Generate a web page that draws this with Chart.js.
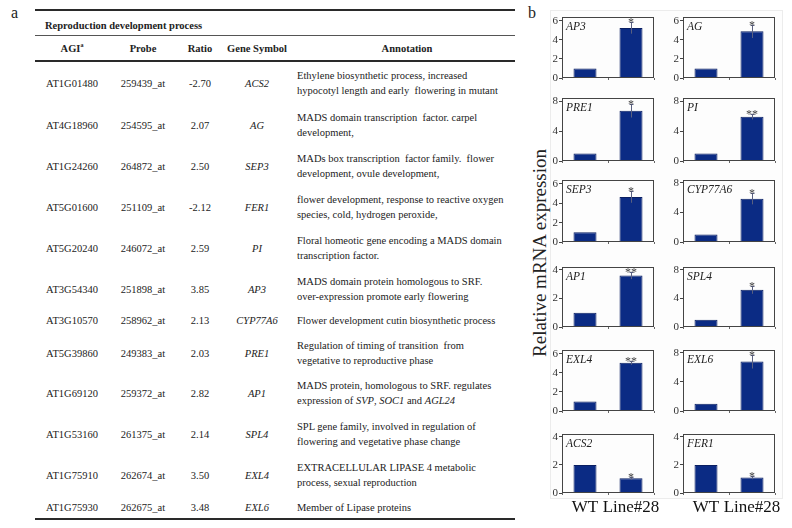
<!DOCTYPE html>
<html><head><meta charset="utf-8">
<script src="https://cdn.jsdelivr.net/npm/chart.js@4.4.1/dist/chart.umd.min.js"></script>
<style>
html,body{margin:0;padding:0;background:#fff;}
body{width:792px;height:528px;position:relative;overflow:hidden;font-family:"Liberation Serif","Times New Roman",serif;color:#222;}
.rule{position:absolute;left:35px;width:480px;background:#2a2a2a;}
.cell{position:absolute;font-size:10.5px;white-space:nowrap;transform:translate(-50%,-50%);}
.ann{position:absolute;left:297px;font-size:10.5px;line-height:15px;white-space:nowrap;transform:translateY(-50%);}
.hdr{font-weight:bold;}
sup{font-size:6px;}
canvas{position:absolute;}
#panelBg{position:absolute;left:550px;top:10px;width:231px;height:487px;border:1px solid #ececec;background:#fdfdfd;}
#ytitle{position:absolute;left:540px;top:253px;font-size:19px;white-space:nowrap;transform:translate(-50%,-50%) rotate(-90deg);color:#222;}
.plabel{position:absolute;font-size:16px;color:#222;}
</style></head><body>
<div class="plabel" style="left:11px;top:4px;">a</div>
<div class="plabel" style="left:528px;top:4px;">b</div>
<div id="panelBg"></div>
<div id="ytitle">Relative mRNA expression</div>
<div id="table"></div>
<script>
// ---------- Table data (panel a) ----------
const tableTitle = "Reproduction development process";
const tableHeaders = ["AGI<sup>a</sup>", "Probe", "Ratio", "Gene Symbol", "Annotation"];
const agiCodes = ["AT1G01480","AT4G18960","AT1G24260","AT5G01600","AT5G20240","AT3G54340","AT3G10570","AT5G39860","AT1G69120","AT1G53160","AT1G75910","AT1G75930"];
const probeIds = ["259439_at","254595_at","264872_at","251109_at","246072_at","251898_at","258962_at","249383_at","259372_at","261375_at","262674_at","262675_at"];
const ratios = ["-2.70","2.07","2.50","-2.12","2.59","3.85","2.13","2.03","2.82","2.14","3.50","3.48"];
const geneSymbols = ["ACS2","AG","SEP3","FER1","PI","AP3","CYP77A6","PRE1","AP1","SPL4","EXL4","EXL6"];
const annotations = [
  "Ethylene biosynthetic process, increased<br>hypocotyl length and early&nbsp; flowering in mutant",
  "MADS domain transcription&nbsp; factor. carpel<br>development,",
  "MADs box transcription&nbsp; factor family.&nbsp; flower<br>development, ovule development,",
  "flower development, response to reactive oxygen<br>species, cold, hydrogen peroxide,",
  "Floral homeotic gene encoding a MADS domain<br>transcription factor.",
  "MADS domain protein homologous to SRF.<br>over-expression promote early flowering",
  "Flower development cutin biosynthetic process",
  "Regulation of timing of transition&nbsp; from<br>vegetative to reproductive phase",
  "MADS protein, homologous to SRF. regulates<br>expression of <i>SVP</i>, <i>SOC1</i> and <i>AGL24</i>",
  "SPL gene family, involved in regulation of<br>flowering and vegetative phase change",
  "EXTRACELLULAR LIPASE 4 metabolic<br>process, sexual reproduction",
  "Member of Lipase proteins"
];

// ---------- Chart data (panel b) ----------
const genes      = ["AP3","AG","PRE1","PI","SEP3","CYP77A6","AP1","SPL4","EXL4","EXL6","ACS2","FER1"];
const categories = ["WT","Line#28"];
const wtValues   = [1.0,1.0,1.0,1.0,1.0,1.0,1.0,1.0,1.0,1.0,2.0,2.0];
const lineValues = [5.25,4.9,6.7,5.9,4.65,5.85,3.6,5.2,5.05,6.8,1.05,1.1];
const lineErrors = [0.6,0.7,0.9,0.35,0.6,0.75,0.25,0.55,0.2,0.95,0.12,0.12];
const signif     = ["*","*","*","**","*","*","**","*","**","*","*","*"];
const axisMax    = [6.4,6.4,8.4,8.4,6.4,8.4,4.2,8.4,6.4,8.4,4.2,4.2];
const tickStep   = 2;

// ---------- Table layout ----------
const colCenters = [72,143,200,257];
const rowCenters = [83,125,166,207,248,289,320,353,393,434,475,507];
const tbl = document.getElementById('table');
function addEl(cls, html, x, y, style) {
  const d = document.createElement('div');
  d.className = cls; d.innerHTML = html;
  d.style.left = x + 'px'; d.style.top = y + 'px';
  if (style) Object.assign(d.style, style);
  tbl.appendChild(d); return d;
}
[[9,2],[35,1],[60,2],[518,2]].forEach(([y,h]) => {
  const r = document.createElement('div'); r.className = 'rule';
  r.style.top = y + 'px'; r.style.height = h + 'px';
  if (h === 1) r.style.background = '#555';
  tbl.appendChild(r);
});
const t = addEl('cell hdr', tableTitle, 45, 25); t.style.transform = 'translateY(-50%)';
tableHeaders.forEach((h, k) => {
  const x = k < 4 ? colCenters[k] : 407;
  addEl('cell hdr', h, x, 48);
});
agiCodes.forEach((code, r) => {
  const y = rowCenters[r];
  addEl('cell', code, colCenters[0], y);
  addEl('cell', probeIds[r], colCenters[1], y);
  addEl('cell', ratios[r], colCenters[2], y);
  addEl('cell', '<i>' + geneSymbols[r] + '</i>', colCenters[3], y);
  addEl('ann', annotations[r], 297, y);
});

// ---------- Panel layout ----------
const colX = [[562,654],[683,775]];
const rowY = [[17,78],[98,161],[180,242],[267,327],[350,411],[434,493]];
const yW = 18, padTop = 10, padRight = 14, padBottom = 2;

genes.forEach((gene, i) => {
  const row = Math.floor(i / 2), col = i % 2;
  const [fx0, fx1] = colX[col];
  const [fy0, fy1] = rowY[row];
  const isBottom = row === rowY.length - 1;
  const xH = isBottom ? 26 : 3;
  const cv = document.createElement('canvas');
  const w = yW + (fx1 - fx0) + padRight;
  const h = padTop + (fy1 - fy0) + xH + padBottom;
  cv.width = w; cv.height = h;
  cv.style.left = (fx0 - yW) + 'px'; cv.style.top = (fy0 - padTop) + 'px';
  document.body.appendChild(cv);

  const decor = {
    id: 'decor' + i,
    afterDatasetsDraw(chart) {
      const ctx = chart.ctx, a = chart.chartArea, ys = chart.scales.y;
      const meta = chart.getDatasetMeta(0);
      const data = chart.data.datasets[0].data;
      const errs = [0, lineErrors[i]];
      const marks = ['', signif[i]];
      ctx.save();
      errs.forEach((e, k) => {
        if (!e) return;
        const bar = meta.data[k];
        const v = data[k];
        const yt = ys.getPixelForValue(v + e), yb = ys.getPixelForValue(v - e);
        const x = Math.round(bar.x) + 0.5;
        ctx.strokeStyle = '#5a6080'; ctx.lineWidth = 1;
        ctx.beginPath();
        ctx.moveTo(x, yt); ctx.lineTo(x, yb);
        ctx.moveTo(x - 2, Math.round(yt) + 0.5); ctx.lineTo(x + 2, Math.round(yt) + 0.5);
        ctx.stroke();
        ctx.fillStyle = '#444';
        ctx.font = '12px "Liberation Serif"';
        ctx.textAlign = 'center'; ctx.textBaseline = 'alphabetic';
        ctx.fillText(marks[k], bar.x, yt + 4);
      });
      ctx.fillStyle = '#222';
      ctx.font = 'italic 11.5px "Liberation Serif"';
      ctx.textAlign = 'left'; ctx.textBaseline = 'alphabetic';
      ctx.fillText(gene, a.left + 4, a.top + 13);
      ctx.strokeStyle = '#444'; ctx.lineWidth = 1;
      ctx.strokeRect(Math.round(a.left) + 0.5, Math.round(a.top) + 0.5, Math.round(a.right - a.left) - 1, Math.round(a.bottom - a.top) - 1);
      ctx.restore();
    }
  };

  new Chart(cv, {
    type: 'bar',
    data: {
      labels: categories,
      datasets: [{
        data: [wtValues[i], lineValues[i]],
        backgroundColor: '#0b2b84',
        borderColor: '#0a1f62',
        borderWidth: 1,
        barPercentage: 0.5,
        categoryPercentage: 1.0
      }]
    },
    options: {
      responsive: false, animation: false, devicePixelRatio: 1,
      layout: { padding: { top: padTop, right: padRight, left: 0, bottom: padBottom }, autoPadding: false },
      plugins: { legend: { display: false }, tooltip: { enabled: false }, title: { display: false } },
      scales: {
        x: {
          grid: { display: true, drawOnChartArea: false, drawTicks: true, tickLength: 2, color: '#666', offset: true },
          border: { display: false },
          ticks: { display: isBottom, font: { family: 'Liberation Serif', size: 17 }, color: '#111',
                   maxRotation: 0, minRotation: 0, autoSkip: false, padding: 2 },
          afterFit(s) { s.height = xH; s.paddingLeft = 0; s.paddingRight = 0; }
        },
        y: {
          min: 0, max: axisMax[i],
          grid: { display: true, drawOnChartArea: false, drawTicks: true, tickLength: 3, color: '#444' },
          border: { display: false },
          ticks: { stepSize: tickStep, includeBounds: false, font: { family: 'Liberation Serif', size: 11 }, color: '#333', padding: 1 },
          afterFit(s) { s.width = yW; s.paddingTop = 0; s.paddingBottom = 0; }
        }
      }
    },
    plugins: [decor]
  });
});
</script>
</body></html>
